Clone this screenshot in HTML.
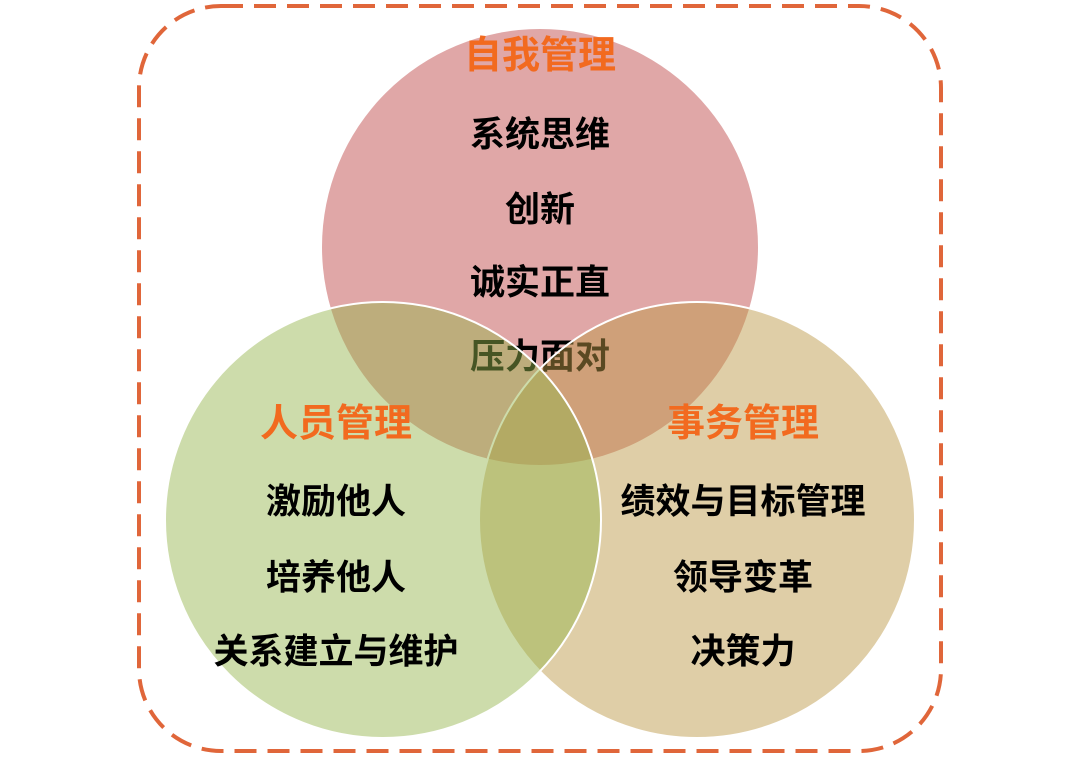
<!DOCTYPE html>
<html><head><meta charset="utf-8"><style>
html,body{margin:0;padding:0;background:#fff;width:1080px;height:760px;overflow:hidden}
text{font-family:"Liberation Sans","Noto Sans CJK SC",sans-serif;font-weight:bold;text-anchor:middle;dominant-baseline:central}
.t{fill:#f26a1f;font-size:38px}
.b{fill:#000;font-size:35px}
</style></head><body>
<svg width="1080" height="760" xmlns="http://www.w3.org/2000/svg">
<rect x="139" y="6" width="802" height="745" rx="82" ry="82" fill="none" stroke="#e0663a" stroke-width="4" stroke-dasharray="22 11"/>
<circle cx="540" cy="247" r="218" fill="#e0a7a7"/>
<g transform="translate(0,2)">
<text class="t" x="540" y="54">自我管理</text>
<text class="b" x="540" y="133">系统思维</text>
<text class="b" x="540" y="208">创新</text>
<text class="b" x="540" y="281">诚实正直</text>
<text class="b" x="540" y="355">压力面对</text>
</g>
<circle cx="697" cy="520" r="218" fill="rgb(188,152,71)" fill-opacity="0.48" stroke="#fff" stroke-width="2"/>
<circle cx="383" cy="520" r="218" fill="rgb(149,181,77)" fill-opacity="0.47" stroke="#fff" stroke-width="2"/>
<g transform="translate(0,2)">
<text class="t" x="336" y="422">人员管理</text>
<text class="b" x="336" y="500">激励他人</text>
<text class="b" x="336" y="576">培养他人</text>
<text class="b" x="336" y="650">关系建立与维护</text>
<text class="t" x="743" y="422">事务管理</text>
<text class="b" x="743" y="500">绩效与目标管理</text>
<text class="b" x="743" y="576">领导变革</text>
<text class="b" x="743" y="650">决策力</text>
</g>
</svg>
</body></html>
